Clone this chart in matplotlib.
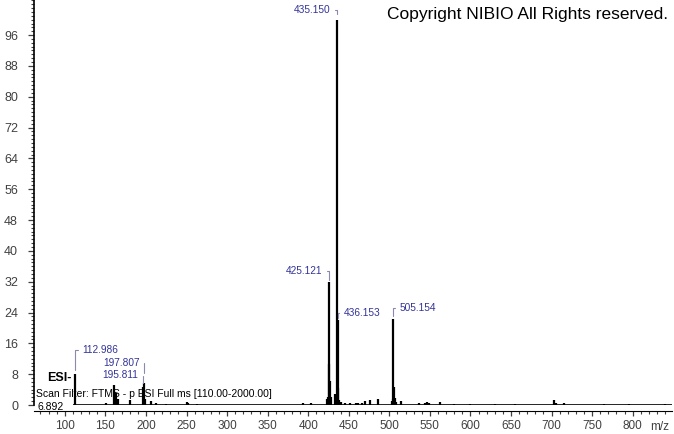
import matplotlib
matplotlib.use("Agg")
import matplotlib.pyplot as plt
from matplotlib.ticker import MultipleLocator, FixedLocator

plt.rcParams['font.family'] = ['Liberation Sans', 'DejaVu Sans']

# --- datos del espectro (m/z, intensidad relativa %) ---
mz = [112.986, 150.5, 160.8, 163.7, 165.0, 180.0, 195.811, 197.807, 199.0, 206.0,
      213.0, 225.0, 250.0, 252.0, 263.0, 393.0, 403.0,
      423.0, 424.0, 425.121, 426.124, 427.1, 428.0, 433.5, 435.150, 436.153,
      437.15, 438.0, 441.0, 446.0, 452.0, 459.0, 462.0, 466.0, 470.0, 476.0,
      486.0, 503.0, 504.0, 505.154, 506.16, 507.0, 508.0, 515.0, 536.0, 544.0,
      547.0, 549.0, 563.0, 580.0, 600.0, 630.0, 655.0, 703.0, 705.0, 715.0,
      765.0, 795.0, 840.0]
intensidad = [8.0, 0.5, 5.2, 3.0, 1.5, 1.3, 4.7, 5.7, 1.5, 1.0,
              0.4, 0.3, 0.8, 0.6, 0.3, 0.6, 0.4,
              1.5, 2.0, 32.0, 10.6, 6.2, 2.0, 2.9, 100.0, 22.0,
              4.4, 1.2, 0.8, 0.4, 0.4, 0.5, 0.5, 0.6, 1.0, 1.3,
              1.5, 1.0, 1.5, 22.3, 4.8, 1.8, 0.8, 1.0, 0.5, 0.6,
              0.8, 0.6, 0.9, 0.3, 0.3, 0.3, 0.3, 1.4, 0.6, 0.4,
              0.3, 0.3, 0.3]

# picos etiquetados: (m/z, intensidad, dx px, dy px, separación px, alineación)
etiquetas = [
    (435.150, 100.0, -6, 10, 6, 'right'),
    (425.121, 32.0, -6, 11, 2, 'right'),
    (436.153, 22.0, 6, 7, 2, 'left'),
    (505.154, 22.3, 6, 11, 3, 'left'),
    (112.986, 8.0, 7, 24, 4, 'left'),
    (197.807, 5.7, -4.5, 20, 10, 'right'),
    (195.811, 4.7, -4, 12, 4, 'right'),
]

x_ticks = list(range(100, 801, 50))
y_ticks = list(range(0, 97, 8))

# --- figura ---
fig = plt.figure(figsize=(6.74, 4.34), dpi=100)
ax = fig.add_axes([34 / 674, 29 / 434, 638 / 674, 405 / 434])

ax.hlines(0, 110, 850, color='black', lw=1.2)
ax.vlines(mz, 0, intensidad, color='black', lw=1.6)

ax.set_xlim(62, 848.5)
ax.set_ylim(0, 105.1)

# ejes
for s in ['top', 'right']:
    ax.spines[s].set_visible(False)
ax.spines['bottom'].set_position(('outward', 4))
ax.spines['bottom'].set_linewidth(0.8)
ax.spines['left'].set_linewidth(1.2)

ax.xaxis.set_major_locator(FixedLocator(x_ticks))
ax.xaxis.set_minor_locator(MultipleLocator(10))
ax.yaxis.set_major_locator(FixedLocator(y_ticks))
ax.yaxis.set_minor_locator(MultipleLocator(1))

ax.tick_params(axis='y', which='major', labelsize=9, colors='#404040',
               length=4.5, width=0.9, pad=7)
ax.tick_params(axis='x', which='major', labelsize=8.5, colors='#404040',
               length=3.5, width=0.9, pad=3.3)
ax.tick_params(axis='both', which='minor', colors='#404040', length=2.2, width=0.8)

fig.text(660 / 674, 1 - 427 / 434, 'm/z', fontsize=8.5, color='#404040',
         ha='center', va='center')

# etiquetas de picos
for m, h, dx, dy, gap, ha in etiquetas:
    ax.annotate(f'{m:.3f}', xy=(m, h), xytext=(dx * 0.72, dy * 0.72),
                textcoords='offset points', ha=ha, va='center',
                fontsize=7.3, color='#333399',
                arrowprops=dict(arrowstyle='-', color='#8a8ab0', lw=0.8,
                                shrinkA=1, shrinkB=gap * 0.72,
                                connectionstyle='angle,angleA=0,angleB=90,rad=0'))

# textos
fig.text(47 / 674, 1 - 378 / 434, 'ESI-', fontsize=9, fontweight='bold',
         ha='left', va='center')
fig.text(36 / 674, 1 - 394 / 434, 'Scan Filter: FTMS - p ESI Full ms [110.00-2000.00]',
         fontsize=7.5, ha='left', va='center')
fig.text(38 / 674, 1 - 407 / 434, '6.892', fontsize=7.5, ha='left', va='center')
fig.text(668 / 674, 1 - 14 / 434, 'Copyright NIBIO All Rights reserved.',
         fontsize=12.5, ha='right', va='center')

fig.savefig('out.png', dpi=100)
